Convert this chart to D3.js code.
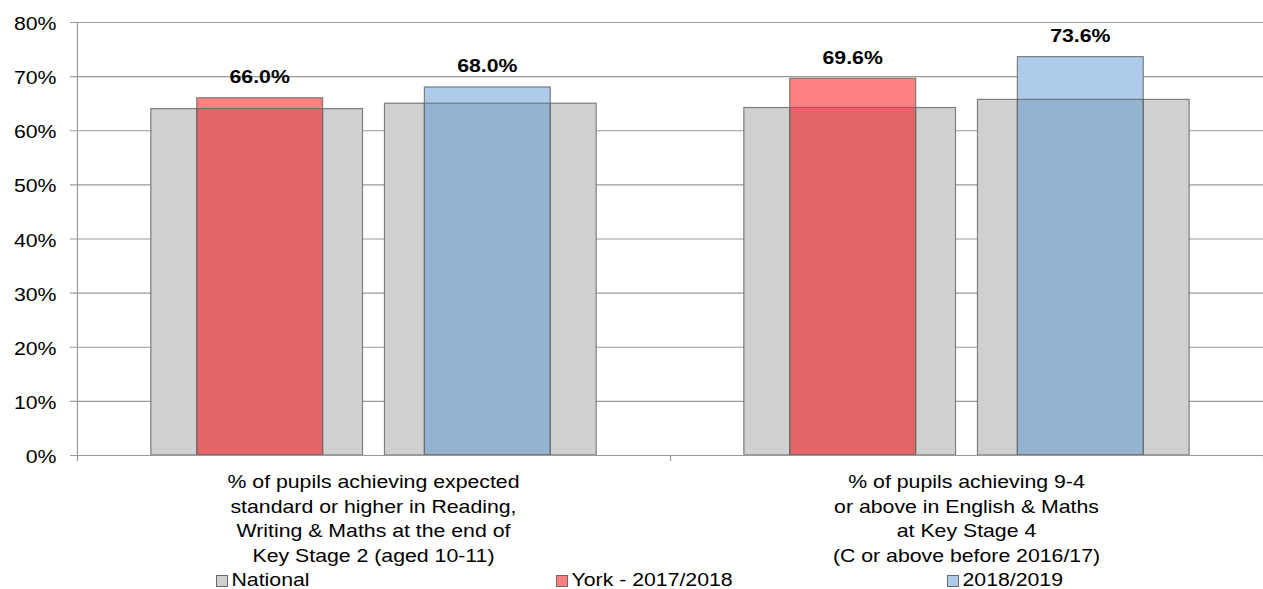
<!DOCTYPE html>
<html>
<head>
<meta charset="utf-8">
<script src="https://cdn.jsdelivr.net/npm/d3@7"></script>
<style>
  html, body { margin: 0; padding: 0; background: #fff; }
  svg { display: block; font-family: "Liberation Sans", Arial, sans-serif; }
</style>
</head>
<body>
<svg id="chart" width="1263" height="589"></svg>
<script>
// ---------- data ----------
const categories = ["KS2", "KS4"];
const categoryLines = [
  ["% of pupils achieving expected", "standard or higher in Reading,", "Writing & Maths at the end of", "Key Stage 2 (aged 10-11)"],
  ["% of pupils achieving 9-4", "or above in English & Maths", "at Key Stage 4", "(C or above before 2016/17)"]
];
const years = ["2017/2018", "2018/2019"];
const national2018 = [64.0, 64.2];
const national2019 = [65.0, 65.7];
const york2018 = [66.0, 69.6];
const york2019 = [68.0, 73.6];
const yTicks = [0, 10, 20, 30, 40, 50, 60, 70, 80];
const legendLabels = ["National", "York - 2017/2018", "2018/2019"];

// ---------- layout / style ----------
const W = 1263, H = 589;
const plot = { left: 77, right: 1263, top: 22, bottom: 455 };
const SX = 1.14;           // horizontal text stretch of the reference
const FS = 18.67;
const C = {
  grid: "#9a9a9a",
  natFill: "#d0d0d0",
  stroke: "#6b6b6b",
  light: ["#ff8080", "#aecbea"],
  dark: ["#e46565", "#94b3d1"]
};

const svg = d3.select("#chart");

const x0 = d3.scaleBand().domain(d3.range(categories.length)).range([plot.left, plot.right]).padding(0);
const xNat = d3.scaleBand().domain(years).range([0, x0.bandwidth()]).paddingInner(0.094).paddingOuter(0.316);
const xSec = d3.scaleBand().domain(years).range([0, x0.bandwidth()]).paddingInner(0.447).paddingOuter(0.526);
const y = d3.scaleLinear().domain([0, 80]).range([plot.bottom, plot.top]);

// gridlines
svg.append("g").selectAll("line").data(yTicks).join("line")
  .attr("x1", plot.left - 7).attr("x2", plot.right)
  .attr("y1", d => y(d) + 0.5).attr("y2", d => y(d) + 0.5)
  .attr("stroke", C.grid).attr("stroke-width", 1.2);

// y axis line
svg.append("line")
  .attr("x1", plot.left + 0.5).attr("x2", plot.left + 0.5)
  .attr("y1", y(80)).attr("y2", y(0))
  .attr("stroke", C.grid).attr("stroke-width", 1.2);

// y tick labels
svg.append("g").selectAll("text").data(yTicks).join("text")
  .attr("transform", d => `translate(56.5,${y(d) + 8}) scale(${SX},1)`)
  .attr("text-anchor", "end")
  .attr("font-size", FS)
  .attr("fill", "#000")
  .text(d => d + "%");

// category ticks on x axis
const catEdges = categories.map((c, i) => x0(i)).concat([plot.right]);
svg.append("g").selectAll("line").data(catEdges).join("line")
  .attr("x1", d => d + 0.5).attr("x2", d => d + 0.5)
  .attr("y1", plot.bottom).attr("y2", plot.bottom + 6)
  .attr("stroke", C.grid).attr("stroke-width", 1.2);

// series tables
const natSeries = [national2018, national2019];
const secSeries = [york2018, york2019];

const groups = svg.append("g").selectAll("g").data(categories).join("g")
  .attr("transform", (d, i) => `translate(${x0(i)},0)`);

// national bars
groups.each(function (c, i) {
  const g = d3.select(this);
  years.forEach((yr, k) => {
    const v = natSeries[k][i];
    g.append("rect")
      .attr("x", xNat(yr)).attr("width", xNat.bandwidth())
      .attr("y", y(v)).attr("height", y(0) - y(v))
      .attr("fill", C.natFill)
      .attr("stroke", C.stroke).attr("stroke-width", 1.2).attr("stroke-opacity", 0.85);
  });
});

// York bars (overlaid)
groups.each(function (c, i) {
  const g = d3.select(this);
  years.forEach((yr, k) => {
    const v = secSeries[k][i];
    const nv = natSeries[k][i];
    g.append("rect")
      .attr("x", xSec(yr)).attr("width", xSec.bandwidth())
      .attr("y", y(v)).attr("height", y(0) - y(v))
      .attr("fill", C.light[k]);
    const ov = Math.min(v, nv);
    g.append("rect")
      .attr("x", xSec(yr)).attr("width", xSec.bandwidth())
      .attr("y", y(ov)).attr("height", y(0) - y(ov))
      .attr("fill", C.dark[k])
      .attr("stroke", C.stroke).attr("stroke-width", 1.2).attr("stroke-opacity", 0.85);
    g.append("rect")
      .attr("x", xSec(yr)).attr("width", xSec.bandwidth())
      .attr("y", y(v)).attr("height", y(0) - y(v))
      .attr("fill", "none")
      .attr("stroke", C.stroke).attr("stroke-width", 1.2).attr("stroke-opacity", 0.85);
    g.append("text")
      .attr("transform", `translate(${xSec(yr) + xSec.bandwidth() / 2},${y(v) - 14.5}) scale(${SX},1)`)
      .attr("text-anchor", "middle")
      .attr("font-size", FS)
      .attr("font-weight", "bold")
      .attr("fill", "#000")
      .text(v.toFixed(1) + "%");
  });
});

// x axis line
svg.append("line")
  .attr("x1", plot.left).attr("x2", plot.right)
  .attr("y1", plot.bottom + 0.5).attr("y2", plot.bottom + 0.5)
  .attr("stroke", C.grid).attr("stroke-width", 1.2);

// category labels
groups.each(function (c, i) {
  const g = d3.select(this);
  categoryLines[i].forEach((line, j) => {
    g.append("text")
      .attr("transform", `translate(${x0.bandwidth() / 2},${488 + j * 24.5}) scale(${SX},1)`)
      .attr("text-anchor", "middle")
      .attr("font-size", FS)
      .attr("fill", "#000")
      .text(line);
  });
});

// legend
const legendX = [216, 556, 947];
const legendFill = [C.natFill, C.light[0], C.light[1]];
const lg = svg.append("g").selectAll("g").data(legendLabels).join("g")
  .attr("transform", (d, i) => `translate(${legendX[i]},0)`);
lg.append("rect")
  .attr("x", 0.5).attr("y", 575.5).attr("width", 11).attr("height", 11)
  .attr("fill", (d, i) => legendFill[i])
  .attr("stroke", C.stroke).attr("stroke-width", 1);
lg.append("text")
  .attr("transform", `translate(15.5,586) scale(${SX},1)`)
  .attr("font-size", FS)
  .attr("fill", "#000")
  .text(d => d);
</script>
</body>
</html>
